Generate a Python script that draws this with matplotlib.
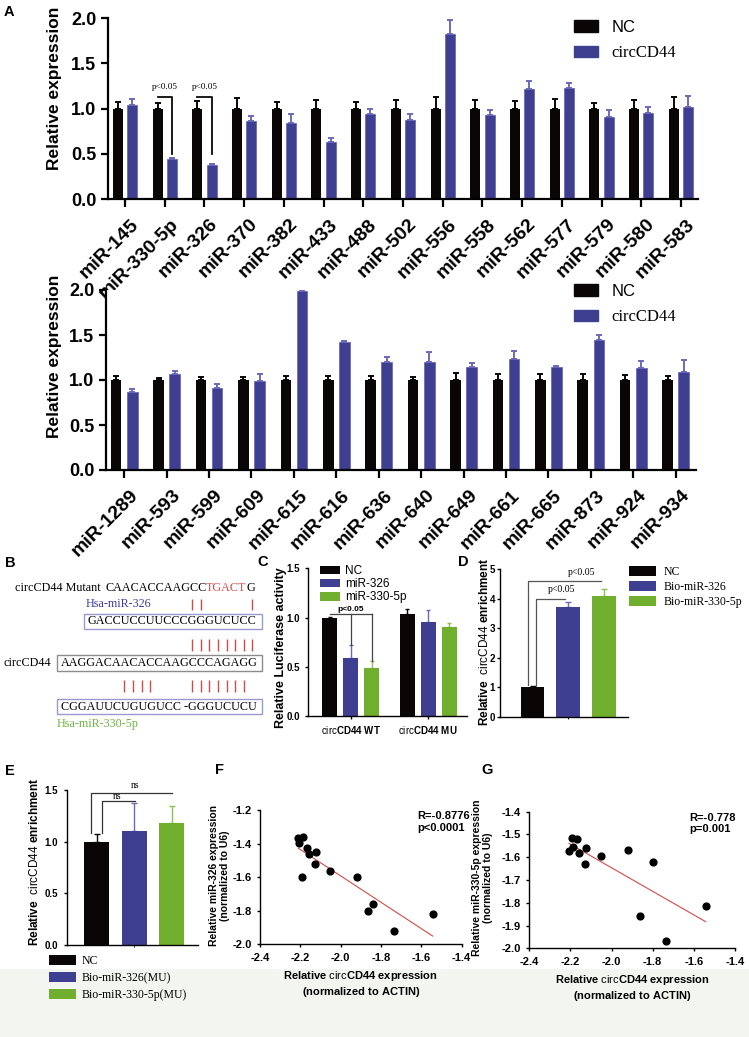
import numpy as np
import matplotlib.pyplot as plt
from matplotlib.patches import Rectangle, Patch
from matplotlib.transforms import ScaledTranslation

plt.rcParams['font.family'] = ['Liberation Sans', 'DejaVu Sans']
plt.rcParams['font.weight'] = 'bold'
plt.rcParams['axes.labelweight'] = 'bold'
plt.rcParams['mathtext.fontset'] = 'custom'
plt.rcParams['mathtext.rm'] = 'Liberation Sans'
plt.rcParams['mathtext.bf'] = 'Liberation Sans:bold'
plt.rcParams['mathtext.it'] = 'Liberation Sans:italic'

SERIF = 'Liberation Serif'
BLACK = '#0a0606'
BLUE = '#3f3f92'
BLUE_E = '#6a6abb'
GREEN = '#70ae2e'
GREEN_E = '#8cc052'
RED = '#d44a4a'

# ---------------- data ----------------
# A, upper panel
mirs_top = ['miR-145', 'miR-330-5p', 'miR-326', 'miR-370', 'miR-382', 'miR-433', 'miR-488',
            'miR-502', 'miR-556', 'miR-558', 'miR-562', 'miR-577', 'miR-579', 'miR-580', 'miR-583']
nc_top = [1.0] * 15
nc_top_err = [0.07, 0.06, 0.08, 0.12, 0.07, 0.10, 0.07, 0.10, 0.13, 0.10, 0.08, 0.11, 0.06, 0.10, 0.13]
circ_top = [1.04, 0.44, 0.375, 0.86, 0.84, 0.63, 0.94, 0.87, 1.83, 0.93, 1.22, 1.23, 0.91, 0.95, 1.02]
circ_top_err = [0.07, 0.015, 0.01, 0.06, 0.10, 0.05, 0.06, 0.07, 0.155, 0.06, 0.09, 0.05, 0.08, 0.07, 0.12]

# A, lower panel
mirs_bot = ['miR-1289', 'miR-593', 'miR-599', 'miR-609', 'miR-615', 'miR-616', 'miR-636',
            'miR-640', 'miR-649', 'miR-661', 'miR-665', 'miR-873', 'miR-924', 'miR-934']
nc_bot = [1.0] * 14
nc_bot_err = [0.045, 0.025, 0.03, 0.03, 0.04, 0.05, 0.05, 0.035, 0.08, 0.07, 0.065, 0.065, 0.055, 0.04]
circ_bot = [0.87, 1.07, 0.91, 0.985, 1.985, 1.418, 1.20, 1.205, 1.14, 1.235, 1.14, 1.45, 1.134, 1.09]
circ_bot_err = [0.035, 0.035, 0.05, 0.08, 0.13, 0.01, 0.06, 0.11, 0.05, 0.09, 0.015, 0.05, 0.08, 0.13]

# C, luciferase
luc_groups = [r'circ$\mathbf{CD44\ WT}$', r'circ$\mathbf{CD44\ MU}$']
luc_names = ['NC', 'miR-326', 'miR-330-5p']
luc_vals = [[1.0, 1.036], [0.586, 0.951], [0.484, 0.90]]
luc_err = [[0.01, 0.047], [0.13, 0.13], [0.075, 0.047]]

# D, pull-down
pull_names = ['NC', 'Bio-miR-326', 'Bio-miR-330-5p']
pull_vals = [1.0, 3.70, 4.10]
pull_err = [0.05, 0.17, 0.22]

# E, pull-down with mutants
mu_names = ['NC', 'Bio-miR-326(MU)', 'Bio-miR-330-5p(MU)']
mu_vals = [1.0, 1.10, 1.18]
mu_err = [0.07, 0.27, 0.17]

# F, correlation miR-326
f_x = [-2.210, -2.207, -2.188, -2.169, -2.155, -2.122, -2.127, -2.193, -2.053, -1.917, -1.863, -1.841, -1.734, -1.544]
f_y = [-1.365, -1.399, -1.363, -1.424, -1.462, -1.448, -1.524, -1.600, -1.561, -1.597, -1.800, -1.762, -1.919, -1.819]

# G, correlation miR-330-5p
g_x = [-2.207, -2.194, -2.186, -2.170, -2.157, -2.123, -2.129, -2.053, -1.919, -1.797, -1.864, -1.734, -1.543]
g_y = [-1.573, -1.514, -1.557, -1.520, -1.583, -1.560, -1.630, -1.596, -1.567, -1.623, -1.860, -1.967, -1.814]

# B, sequences
mut_seq = ['CAACACCAAGCC', 'TGACT', 'G']
seq_326 = 'GACCUCCUUCCCGGGUCUCC'
seq_circ = 'AAGGACAACACCAAGCCCAGAGG'
seq_330 = 'CGGAUUCUGUGUCC -GGGUCUCU'
pair_row1 = [192.3, 200.7, 252.3]
pair_row2 = [192.3, 200.7, 209.0, 218.3, 226.7, 235.3, 243.7, 252.3]
pair_row3 = [124.3, 132.7, 141.7, 150.0, 192.3, 200.7, 209.0, 218.3, 226.7, 235.3, 243.7]

# ---------------- figure ----------------
W, H = 749, 1037
fig = plt.figure(figsize=(W / 100, H / 100), dpi=100)
fig.patches.append(Rectangle((0, 0), 1, (H - 969) / H, transform=fig.transFigure,
                             facecolor='#f3f6f0', edgecolor='none', zorder=-10))


def axes_px(l, t, r, b):
    return fig.add_axes([l / W, 1 - b / H, (r - l) / W, (b - t) / H])


def style(ax, lw=1.0, tl=2.5, fs=7.5):
    for s in ['top', 'right']:
        ax.spines[s].set_visible(False)
    for s in ['left', 'bottom']:
        ax.spines[s].set_linewidth(lw)
    ax.tick_params(length=tl, width=lw, labelsize=fs)


# overlay for panel B and the letters
axB = fig.add_axes([0, 0, 1, 1])
axB.set_xlim(0, W)
axB.set_ylim(H, 0)
axB.axis('off')
axB.patch.set_visible(False)

for lab, (x, y) in zip('ABCDEFG', [(9, 12), (10, 563), (263, 562), (463, 562), (10, 771), (220, 770), (487, 770)]):
    axB.text(x, y, lab, fontsize=10.5, ha='center', va='center')


# ---- panel A ----
def grouped(ax, names, nc, nc_err, circ, circ_err, off):
    x = np.arange(len(names))
    ax.bar(x - off, nc, 0.25, color=BLACK, zorder=2)
    ax.bar(x + off, circ, 0.25, color=BLUE, edgecolor=BLUE_E, linewidth=0.6, zorder=2)
    ax.errorbar(x - off, nc, yerr=[np.zeros(len(nc)), nc_err], fmt='none', ecolor=BLACK,
                elinewidth=1.4, capsize=2, capthick=1.4, zorder=1)
    ax.errorbar(x + off, circ, yerr=[np.zeros(len(circ)), circ_err], fmt='none', ecolor=BLUE_E,
                elinewidth=1.4, capsize=2, capthick=1.4, zorder=1)
    ax.set_ylim(0, 2.0)
    ax.set_yticks([0, 0.5, 1.0, 1.5, 2.0])
    ax.set_yticklabels(['0.0', '0.5', '1.0', '1.5', '2.0'])
    ax.set_xticks(x)
    ax.set_xticklabels(names, rotation=45, ha='right', rotation_mode='anchor')
    style(ax, lw=1.6, tl=5, fs=13)
    ax.tick_params(axis='x', length=6, pad=6, labelsize=14)
    shift = ScaledTranslation(5 / 100, 0, fig.dpi_scale_trans)
    for lab in ax.get_xticklabels():
        lab.set_transform(lab.get_transform() + shift)
    ax.set_ylabel('Relative expression', fontsize=12.5)
    return x


axA1 = axes_px(108, 18.3, 698, 199)
xa = grouped(axA1, mirs_top, nc_top, nc_top_err, circ_top, circ_top_err, 0.18)
axA1.set_xlim(-0.43, 14.43)
axA1.yaxis.set_label_coords(-0.078, 0.61)
for i, low in [(1, 0.50), (2, 0.50)]:
    axA1.plot([xa[i] - 0.18, xa[i] + 0.18, xa[i] + 0.18], [1.13, 1.13, low], color=BLACK, lw=1.3)
    axA1.text(xa[i], 1.19, 'p<0.05', family=SERIF, fontweight='normal', fontsize=6.7, ha='center', va='bottom')

axA2 = axes_px(106, 290, 696, 470)
grouped(axA2, mirs_bot, nc_bot, nc_bot_err, circ_bot, circ_bot_err, 0.19)
axA2.set_xlim(-0.43, 13.48)
axA2.yaxis.set_label_coords(-0.075, 0.63)

for ax, top in [(axA1, 20), (axA2, 284)]:
    leg = fig.legend([Patch(color=BLACK), Patch(color=BLUE)], ['NC', 'circCD44'], loc='upper left',
                     bbox_to_anchor=(574 / W, 1 - top / H), frameon=False, borderpad=0, borderaxespad=0,
                     prop={'size': 12, 'weight': 'normal'}, handlelength=1.44, handleheight=0.72,
                     handletextpad=0.8, labelspacing=0.62)
    leg.get_texts()[1].set_family(SERIF)

# ---- panel B ----
sfont = dict(family=SERIF, fontweight='normal', fontsize=8.7)
axB.text(15, 588, 'circCD44 Mutant', va='center', **sfont)
t0 = axB.text(105, 588, mut_seq[0], va='center', **sfont)
t1 = axB.annotate(mut_seq[1], xy=(1, 0), xycoords=t0, va='bottom', ha='left', color=RED, **sfont)
axB.annotate(mut_seq[2], xy=(1, 0), xycoords=t1, va='bottom', ha='left', **sfont)
axB.text(86, 604, 'Hsa-miR-326', va='center', color='#3b3ba5', **sfont)
axB.add_patch(Rectangle((84, 614), 178, 15, fill=False, ec='#9a9ad2', lw=1))
axB.text(88, 621.5, seq_326, va='center', **sfont)
axB.text(4, 663, 'circCD44', va='center', **sfont)
axB.add_patch(Rectangle((57, 655), 205, 16, fill=False, ec='#8c8c8c', lw=1))
axB.text(61, 663, seq_circ, va='center', **sfont)
axB.add_patch(Rectangle((57, 699), 205, 15, fill=False, ec='#9a9ad2', lw=1))
axB.text(61, 706.5, seq_330, va='center', **sfont)
axB.text(57, 724, 'Hsa-miR-330-5p', va='center', color='#6db33f', **sfont)
axB.vlines(pair_row1, 599, 610, color=RED, lw=1)
axB.vlines(pair_row2, 639, 651, color=RED, lw=1)
axB.vlines(pair_row3, 680, 692, color=RED, lw=1)

# ---- panel C ----
axC = axes_px(308.3, 568.3, 466.7, 716)
xc = np.arange(len(luc_groups))
cols = [BLACK, BLUE, GREEN]
ecols = [BLACK, BLUE_E, GREEN_E]
offs = [-0.27, 0, 0.27]
for k in range(3):
    axC.bar(xc + offs[k], luc_vals[k], 0.19, color=cols[k], label=luc_names[k], zorder=2)
    axC.errorbar(xc + offs[k], luc_vals[k], yerr=[[0, 0], luc_err[k]], fmt='none', ecolor=ecols[k],
                 elinewidth=1, capsize=1.5, capthick=1, zorder=1)
axC.plot([-0.27, 0.27], [1.04, 1.04], color='#444444', lw=0.9)
axC.plot([0, 0], [1.04, 0.72], color='#444444', lw=0.9)
axC.plot([0.27, 0.27], [1.04, 0.56], color='#444444', lw=0.9)
axC.text(0, 1.05, 'p<0.05', fontsize=6, ha='center', va='bottom')
axC.set_xlim(-0.546, 1.495)
axC.set_ylim(0, 1.5)
axC.set_yticks([0, 0.5, 1.0, 1.5])
axC.set_yticklabels(['0.0', '0.5', '1.0', '1.5'])
axC.set_xticks(xc)
axC.set_xticklabels(luc_groups, fontweight='normal', fontsize=8)
style(axC, fs=7)
axC.set_ylabel('Relative Luciferase activity', fontsize=9)
axC.yaxis.set_label_coords(-0.134, 0.46)
axC.legend(loc='upper left', bbox_to_anchor=(320 / W, 1 - 565 / H), bbox_transform=fig.transFigure,
           frameon=False, borderpad=0, borderaxespad=0, prop={'size': 8.5, 'weight': 'normal'},
           handlelength=1.7, handleheight=0.76, handletextpad=0.45, labelspacing=0.1)


# ---- panels D, E ----
def pulldown(ax, vals, errs, names, ylim, yticks, yticklabels):
    x = np.arange(len(vals))
    for k in range(len(vals)):
        ax.bar(x[k], vals[k], 0.66, color=cols[k], label=names[k], zorder=2)
        ax.errorbar(x[k], vals[k], yerr=[[0], [errs[k]]], fmt='none', ecolor=ecols[k],
                    elinewidth=1, capsize=2, capthick=1, zorder=1)
    ax.set_ylim(*ylim)
    ax.set_yticks(yticks)
    ax.set_yticklabels(yticklabels)
    ax.set_xticks([1])
    ax.set_xticklabels([''])
    style(ax, fs=7)
    ax.tick_params(axis='x', length=1.5, width=0.6)
    ax.set_ylabel(r'$\mathbf{Relative}$  circCD44 $\mathbf{enrichment}$', fontsize=8.5, fontweight='normal')


axD = axes_px(500, 569, 628.3, 716.7)
pulldown(axD, pull_vals, pull_err, pull_names, (0, 5), [0, 1, 2, 3, 4, 5], ['0', '1', '2', '3', '4', '5'])
axD.tick_params(axis='y', length=2, pad=1.5)
axD.set_xlim(-0.91, 2.68)
axD.yaxis.set_label_coords(-0.07, 0.51)
axD.plot([-0.12, -0.12, 1.93], [1.06, 4.58, 4.58], color='#555555', lw=0.9)
axD.plot([0.10, 0.10, 0.91], [1.06, 4.0, 4.0], color='#555555', lw=0.9)
axD.text(1.38, 4.87, 'p<0.05', family=SERIF, fontweight='normal', fontsize=7, ha='center', va='center')
axD.text(0.82, 4.29, 'p<0.05', family=SERIF, fontweight='normal', fontsize=7, ha='center', va='center')
axD.legend(loc='upper left', bbox_to_anchor=(629 / W, 1 - 566 / H), bbox_transform=fig.transFigure,
           frameon=False, borderpad=0, borderaxespad=0, prop={'size': 8.5, 'weight': 'normal', 'family': SERIF},
           handlelength=2.3, handleheight=0.93, handletextpad=0.6, labelspacing=0.25)

axE = axes_px(66.7, 790, 198, 945)
pulldown(axE, mu_vals, mu_err, mu_names, (0, 1.5), [0, 0.5, 1.0, 1.5], ['0.0', '0.5', '1.0', '1.5'])
axE.set_xlim(-0.8, 2.7)
axE.yaxis.set_label_coords(-0.196, 0.535)
axE.plot([-0.14, -0.14, 2.0], [1.08, 1.47, 1.47], color='#333333', lw=0.9, clip_on=False)
axE.plot([0.13, 0.13, 1.02], [1.08, 1.39, 1.39], color='#333333', lw=0.9)
axE.text(1.02, 1.54, 'ns', family=SERIF, fontweight='normal', fontsize=7, ha='center', va='center')
axE.text(0.55, 1.44, 'ns', family=SERIF, fontweight='normal', fontsize=7, ha='center', va='center')
axE.legend(loc='upper left', bbox_to_anchor=(49 / W, 1 - 955 / H), bbox_transform=fig.transFigure,
           frameon=False, borderpad=0, borderaxespad=0, prop={'size': 8.5, 'weight': 'normal', 'family': SERIF},
           handlelength=2.3, handleheight=0.9, handletextpad=0.5, labelspacing=0.42)

# ---- panels F, G ----
xlab = r'$\mathbf{Relative}$ circ$\mathbf{CD44\ expression}$' + '\n' + r'$\mathbf{(normalized\ to\ ACTIN)}$'


def corr(ax, xs, ys, ylim, yticks, ylabel, stat):
    ax.scatter(xs, ys, s=24, color='black', zorder=3, clip_on=False)
    slope, icpt = np.polyfit(xs, ys, 1)
    xx = np.array([min(xs), max(xs)])
    ax.plot(xx, slope * xx + icpt, color=RED, lw=0.8)
    ax.set_xlim(-2.4, -1.4)
    ax.set_ylim(*ylim)
    ax.set_xticks([-2.4, -2.2, -2.0, -1.8, -1.6, -1.4])
    ax.set_xticklabels(['-2.4', '-2.2', '-2.0', '-1.8', '-1.6', '-1.4'])
    ax.set_yticks(yticks)
    ax.set_yticklabels(['%.1f' % v for v in yticks])
    style(ax, fs=8)
    ax.set_ylabel(ylabel, fontsize=7.5, linespacing=1.1)
    ax.set_xlabel(xlab, fontsize=8, fontweight='normal', linespacing=1.2)
    ax.text(0.78, 0.99, stat, transform=ax.transAxes, fontsize=8, ha='left', va='top', linespacing=1.15)


axF = axes_px(260, 810, 461.7, 944.3)
corr(axF, f_x, f_y, (-2.0, -1.2), [-2.0, -1.8, -1.6, -1.4, -1.2],
     'Relative miR-326 expression\n(normalized to U6)', 'R=-0.8776\np<0.0001')
axF.yaxis.set_label_coords(-0.149, 0.51)
axF.xaxis.set_label_coords(0.5, -0.184)

axG = axes_px(529.3, 811.7, 735, 948.3)
corr(axG, g_x, g_y, (-2.0, -1.4), [-2.0, -1.9, -1.8, -1.7, -1.6, -1.5, -1.4],
     'Relative miR-330-5p expression\n(normalized to U6)', 'R=-0.778\np=0.001')
axG.yaxis.set_label_coords(-0.176, 0.52)
axG.xaxis.set_label_coords(0.5, -0.18)

fig.savefig('out.png', dpi=100)
